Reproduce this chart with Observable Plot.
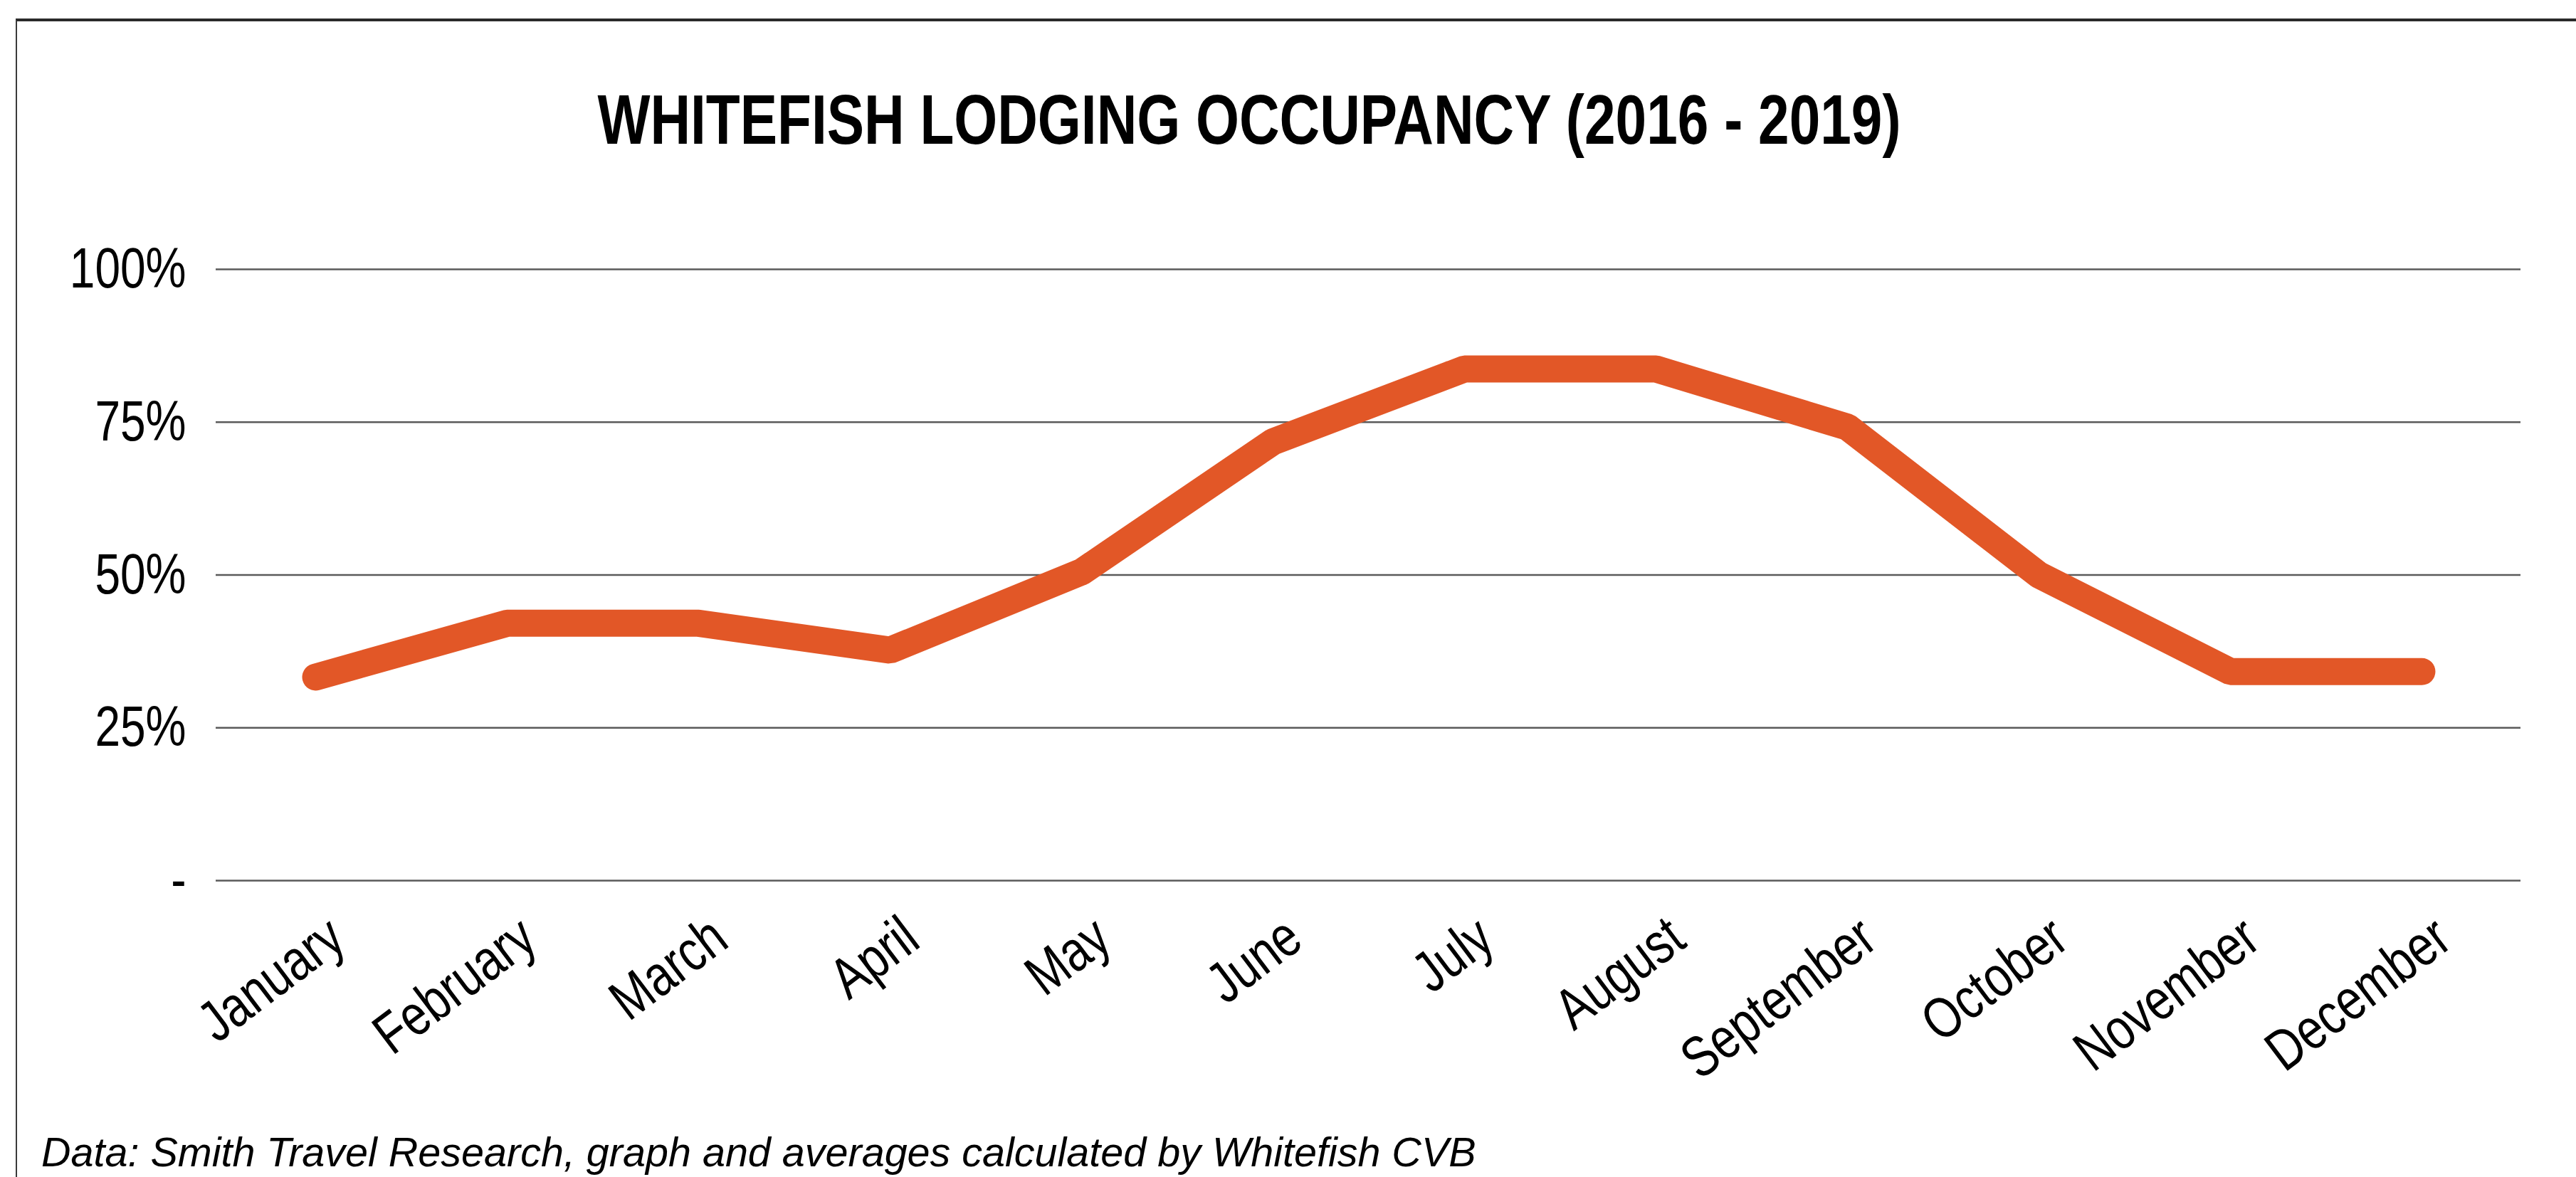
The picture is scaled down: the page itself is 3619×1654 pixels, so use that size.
<!DOCTYPE html>
<html>
<head>
<meta charset="utf-8">
<script src="https://cdn.jsdelivr.net/npm/d3@7"></script>
<script src="https://cdn.jsdelivr.net/npm/@observablehq/plot@0.6"></script>
<style>
  html, body { margin: 0; padding: 0; background: #fff; }
  #page { position: relative; width: 3619px; height: 1654px; overflow: hidden; background: #fff;
          font-family: "Liberation Sans", Arial, sans-serif; }
  #frame { position: absolute; left: 22px; top: 26px; right: -20px; bottom: -20px;
           border-left: 2px solid #3a3a3a; border-top: 4px solid #2a2a2a; }
  #title { position: absolute; left: 0; width: 3510px; top: 119px; text-align: center;
           font-weight: bold; font-size: 98px; line-height: 1; color: #000; white-space: nowrap;
           transform: scaleX(0.8); transform-origin: 1755px 50%; }
  #chart { position: absolute; left: 0; top: 300px; }
  #caption { position: absolute; left: 58px; top: 1591px; font-style: italic; font-size: 57.5px;
             line-height: 1; color: #000; white-space: nowrap; }
</style>
</head>
<body>
<div id="page">
  <div id="frame"></div>
  <div id="title">WHITEFISH LODGING OCCUPANCY (2016 - 2019)</div>
  <div id="chart"></div>
  <div id="caption">Data: Smith Travel Research, graph and averages calculated by Whitefish CVB</div>
</div>
<script>
// ---- data ----
const months = ["January", "February", "March", "April", "May", "June",
                "July", "August", "September", "October", "November", "December"];
const occupancy = [33.3, 42.1, 42.1, 37.7, 50.5, 71.8, 83.7, 83.7, 74.2, 50, 34.2, 34.2];
const yTicks = [0, 25, 50, 75, 100];
const yTickLabels = ["-", "25%", "50%", "75%", "100%"];

const data = months.map((m, i) => ({month: m, value: occupancy[i]}));
const fontFam = '"Liberation Sans", Arial, sans-serif';

const chart = Plot.plot({
  width: 3619,
  height: 1280,
  marginTop: 78,
  marginBottom: 343,
  marginLeft: 303,
  marginRight: 78,
  style: {fontFamily: fontFam, background: "transparent", color: "#000"},
  x: {type: "point", domain: months, padding: 0.5},
  y: {domain: [0, 100]},
  marks: [
    Plot.ruleY(yTicks, {stroke: "#5a5a5a", strokeWidth: 2.5}),
    Plot.axisY({
      ticks: yTicks,
      tickSize: 0,
      tickPadding: 42,
      fontSize: 80,
      tickFormat: d => yTickLabels[yTicks.indexOf(d)],
      label: null
    }),
    Plot.axisX({
      tickSize: 0,
      tickPadding: 70,
      tickRotate: -37,
      fontSize: 81,
      dx: 30,
      label: null
    }),
    Plot.line(data, {x: "month", y: "value", stroke: "#E25727", strokeWidth: 38,
                     strokeLinecap: "round", strokeLinejoin: "miter"})
  ]
});
document.getElementById("chart").appendChild(chart);

// condense tick labels horizontally (narrow face look), around each label's anchor
chart.querySelectorAll('g[aria-label="x-axis tick label"] text, g[aria-label="y-axis tick label"] text')
  .forEach(t => {
    const x = +t.getAttribute("x") || 0, y = +t.getAttribute("y") || 0;
    const tr = t.getAttribute("transform") || "";
    t.setAttribute("transform", `${tr} translate(${x},${y}) scale(0.8,1) translate(${-x},${-y})`);
  });
</script>
</body>
</html>
